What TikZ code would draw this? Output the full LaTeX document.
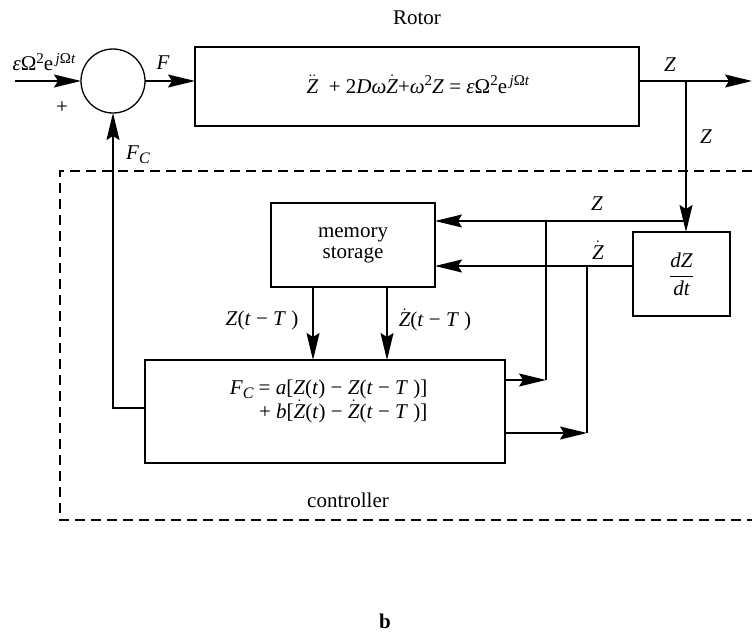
\documentclass[tikz,border=0pt]{standalone}
\usepackage{fontspec}
\setmainfont{Liberation Serif}
\usetikzlibrary{arrows.meta}
\newcommand\Zi{\textit{Z}}
\newcommand\Zd{$\dot{\hbox{\itshape Z}}$}
\newcommand\Zdd{$\ddot{\hbox{\itshape Z}}$}
\newcommand\FC{\textit{F}\raisebox{-0.45ex}{\fontsize{16}{16}\selectfont\itshape C}}
\newcommand\supr[1]{\raisebox{0.75ex}{\fontsize{15}{15}\selectfont #1}}
\begin{document}
\begin{tikzpicture}[x=1pt,y=-1pt,
  font=\fontsize{21}{22}\selectfont,
  line width=1.3pt,
  box/.style={draw, inner sep=0pt, outer sep=0pt},
  tip/.style={-{Stealth[length=27pt,width=13pt,inset=4pt]}},
  lbl/.style={inner sep=0pt}]
\useasboundingbox (0,0) rectangle (752,637);

% dashed controller frame
\draw[line width=1.2pt, dash pattern=on 10pt off 6pt] (752,171) -- (60,171) -- (60,520) -- (752,520);

% nodes
\node[box, circle, minimum size=64pt] (sum) at (113,81) {};
\node[box, minimum width=444pt, minimum height=79pt] (rotor) at (417,86.5) {};
\node[lbl] (eq) at (418,84) {\Zdd\ \ + 2\textit{D}\textit{ω}\Zd+\textit{ω}\supr{2}\Zi\ = \textit{ε}Ω\supr{2}e\supr{\,\textit{j}Ω\textit{t}}};
\node[lbl] (rotorlbl) at (417,18) {Rotor};
\node[lbl] (inlbl) at (44,62) {\textit{ε}Ω\supr{2}e\supr{\,\textit{j}Ω\textit{t}}};
\coordinate (in) at (15,81);
\node[lbl] (plus) at (62,108) {+};
\node[lbl] (Flbl) at (163,63) {\textit{F}};
\coordinate (out) at (752,81);
\node[lbl] (Zout) at (670,65) {\Zi};
\coordinate (br) at (686,81);
\node[lbl] (Zbr) at (706,137) {\Zi};
\node[box, minimum width=97pt, minimum height=84pt] (ddt) at (681.5,274) {$\displaystyle\frac{\hbox{\itshape dZ}}{\hbox{\itshape dt}}$};
\coordinate (jz) at (686,221);
\node[box, minimum width=164pt, minimum height=84pt, align=center, font=\fontsize{21}{21}\selectfont] (mem) at (353,245) {memory\\storage};
\node[lbl] (Zm) at (597,204) {\Zi};
\node[lbl] (Zdm) at (598,250) {\Zd};
\coordinate (vz) at (546,221);
\coordinate (vzd) at (587,266);
\node[box, minimum width=360pt, minimum height=103pt] (ctrl) at (325,411.5) {};
\node[lbl, align=right, anchor=east] (eqc) at (428,401) {\FC\ = \textit{a}[\Zi(\textit{t}) − \Zi(\textit{t} − \textit{T} )]\\+ \textit{b}[\Zd(\textit{t}) − \Zd(\textit{t} − \textit{T} )]};
\node[lbl] (zdel) at (262,320) {\Zi(\textit{t} − \textit{T} )};
\node[lbl] (zddel) at (435,320) {\Zd(\textit{t} − \textit{T} )};
\node[lbl] (FClbl) at (138,155) {\FC};
\node[lbl] (ctrllbl) at (348,500) {controller};
\node[lbl] (sub) at (385,621) {\textbf{b}};

% connectors
\draw[tip] (in) -- (sum.west);
\draw[tip] (sum.east) -- (sum.east -| rotor.west);
\draw[tip] (sum.east -| rotor.east) -- (out);
\draw[tip] (br) -- (br |- ddt.north);
\draw[tip] (jz) -- (jz -| mem.east);
\draw[tip] ([yshift=8pt]ddt.west) -- ([yshift=8pt]ddt.west -| mem.east);
\draw (vz) -- ([yshift=31.5pt]ctrl.east -| vz);
\draw[tip] ([yshift=31.5pt]ctrl.east) -- ([yshift=31.5pt]ctrl.east -| vz);
\draw (vzd) -- ([yshift=-21.5pt]ctrl.east -| vzd);
\draw[tip] ([yshift=-21.5pt]ctrl.east) -- ([yshift=-21.5pt]ctrl.east -| vzd);
\draw[tip] ([xshift=-40pt]mem.south) -- ([xshift=-40pt]mem.south |- ctrl.north);
\draw[tip] ([xshift=34pt]mem.south) -- ([xshift=34pt]mem.south |- ctrl.north);
\draw[tip] ([yshift=3.5pt]ctrl.west) -- ([yshift=3.5pt]ctrl.west -| sum.south) -- (sum.south);
\end{tikzpicture}
\end{document}
